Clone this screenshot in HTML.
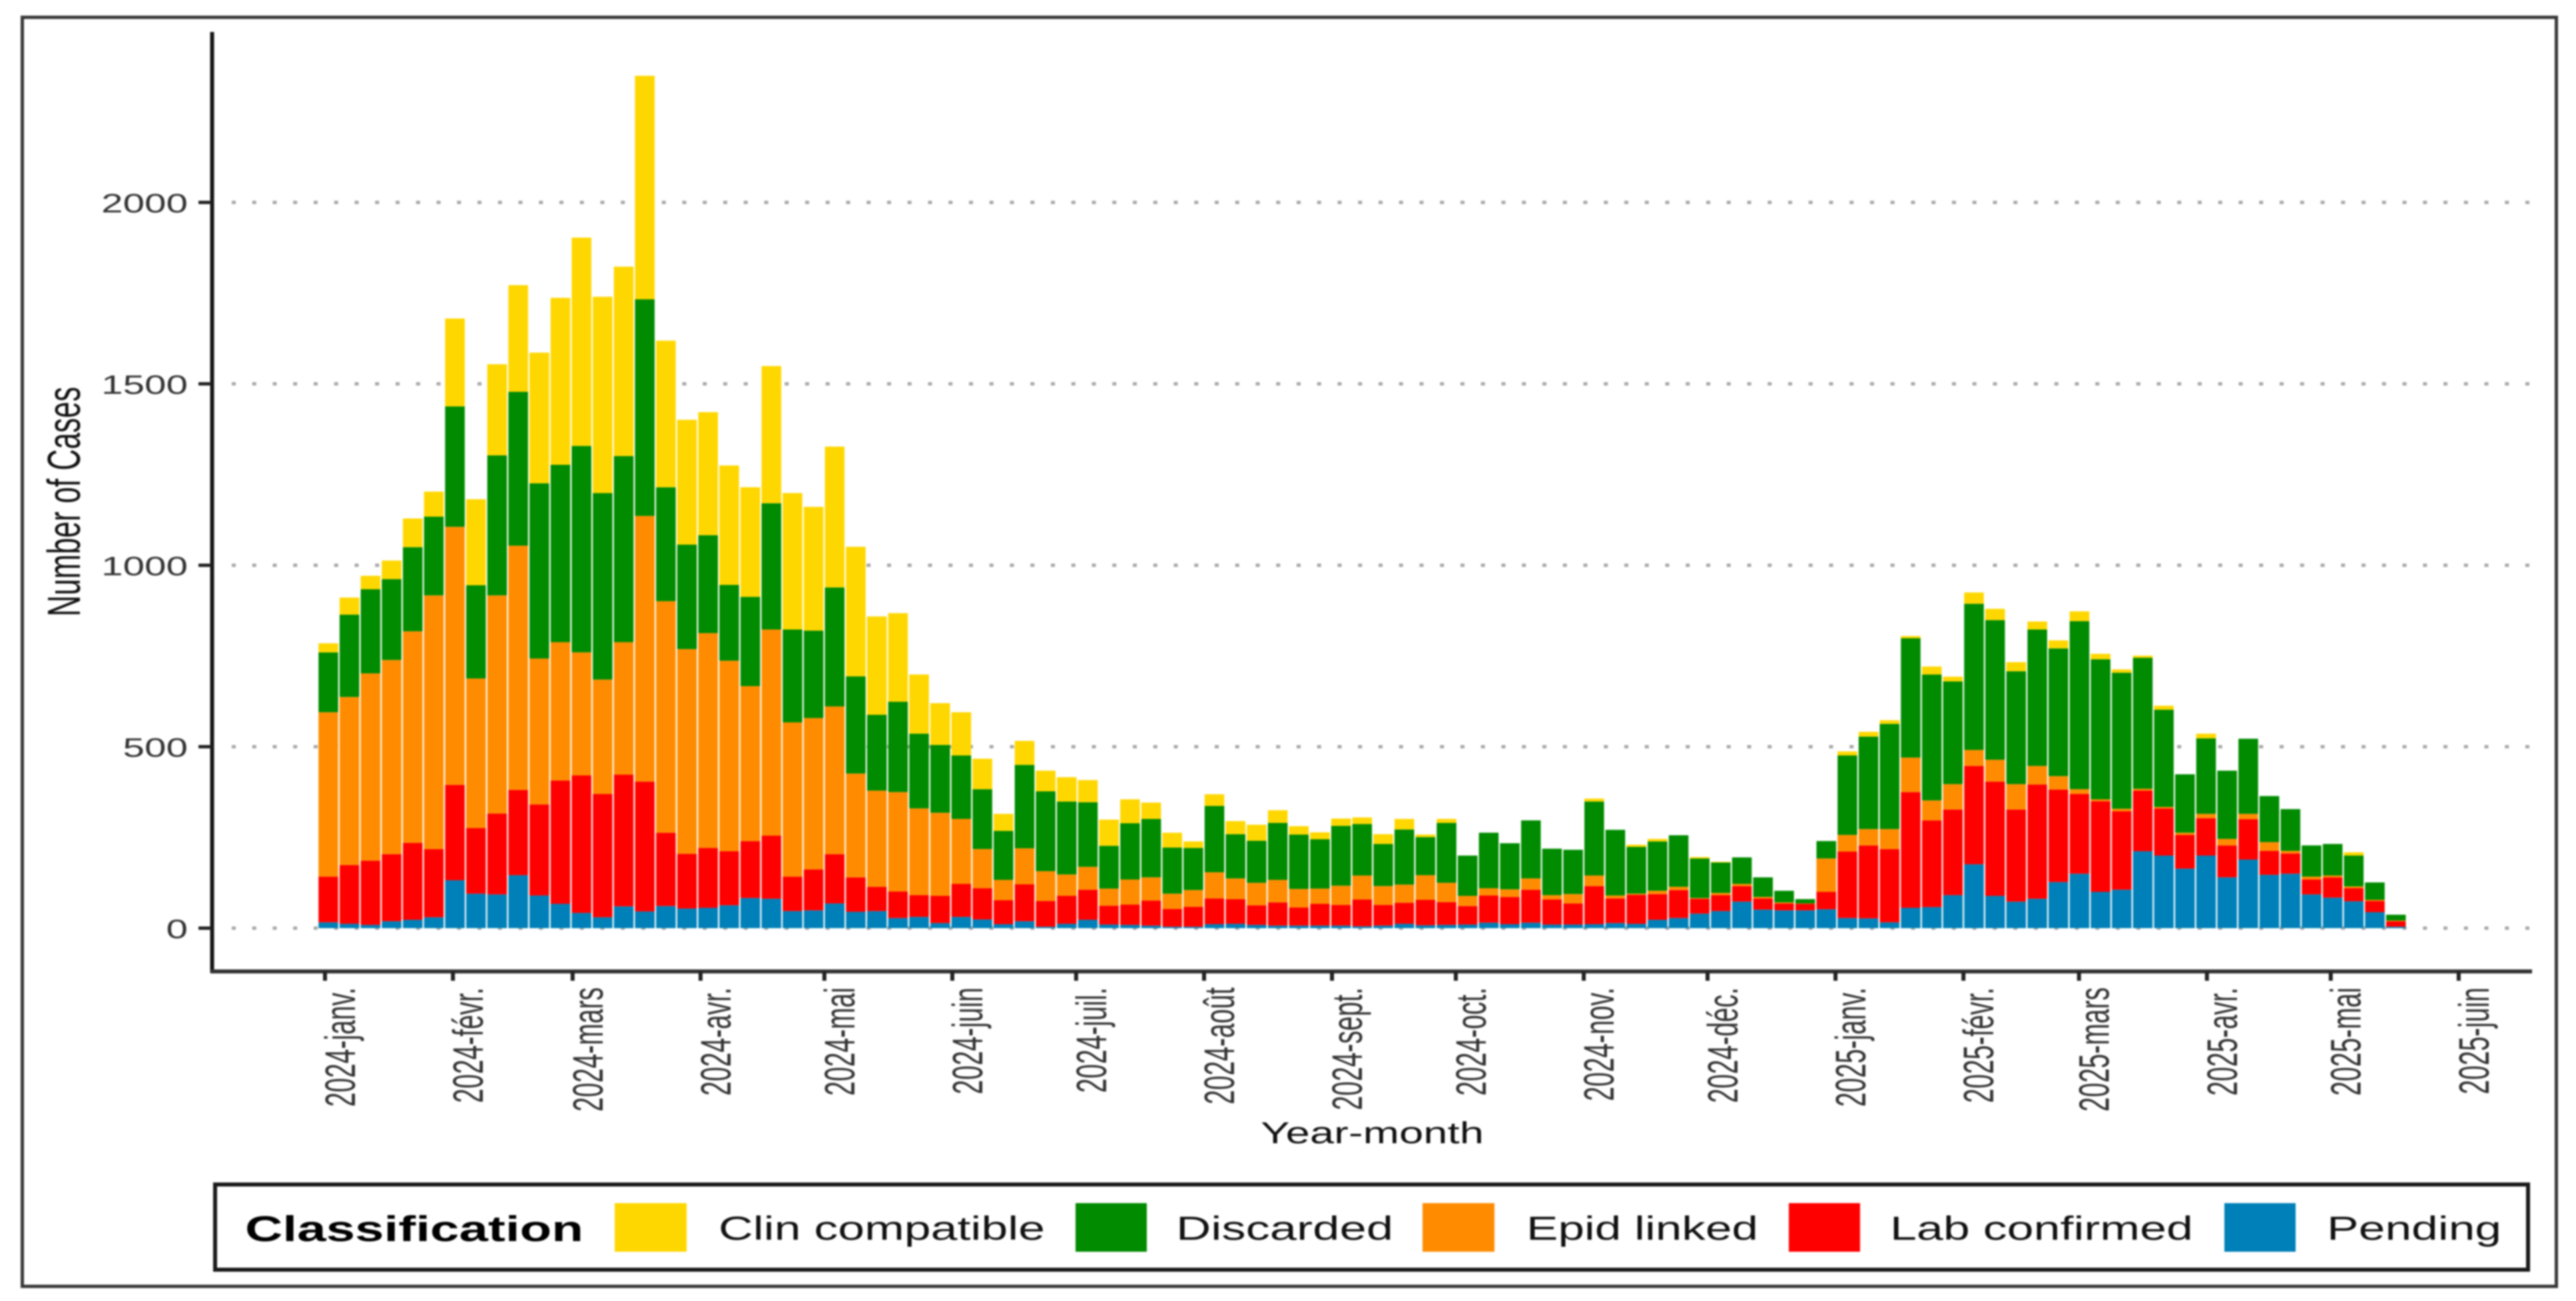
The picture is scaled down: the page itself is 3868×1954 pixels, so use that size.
<!DOCTYPE html>
<html lang="fr">
<head>
<meta charset="utf-8">
<title>Number of Cases by Year-month</title>
<style>
html,body{margin:0;padding:0;background:#fff;}
svg{display:block;filter:blur(1.3px);}
text{font-family:"Liberation Sans",sans-serif;}
</style>
</head>
<body>
<svg id="chart" xmlns="http://www.w3.org/2000/svg" width="3868" height="1954" viewBox="0 0 3868 1954">
  <rect x="0" y="0" width="3868" height="1954" fill="#ffffff"/>
  <rect x="33.5" y="26" width="3805" height="1906" fill="none" stroke="#383838" stroke-width="5"/>
  <g id="grid"></g>
  <g id="bars"></g>
  <line x1="318.5" y1="48" x2="318.5" y2="1461" stroke="#151515" stroke-width="6"/>
  <line x1="316" y1="1459" x2="3802" y2="1459" stroke="#333" stroke-width="6"/>
  <g id="yticks"></g>
  <g id="xticks"></g>
  <text transform="translate(120,926) rotate(-90)" font-size="70" textLength="345" lengthAdjust="spacingAndGlyphs" fill="#111">Number of Cases</text>
  <text x="1893" y="1717" font-size="45" textLength="335" lengthAdjust="spacingAndGlyphs" fill="#111">Year-month</text>
  <g>
    <rect x="323" y="1779" width="3473" height="128" fill="#fff" stroke="#1a1a1a" stroke-width="6"/>
    <text x="368" y="1864" font-size="54" font-weight="bold" textLength="508" lengthAdjust="spacingAndGlyphs" fill="#000">Classification</text>
    <rect x="923" y="1807" width="108" height="73" fill="#FFD700"/>
    <text x="1079" y="1862" font-size="50" textLength="490" lengthAdjust="spacingAndGlyphs" fill="#111">Clin compatible</text>
    <rect x="1615" y="1807" width="107" height="73" fill="#008B00"/>
    <text x="1766" y="1862" font-size="50" textLength="326" lengthAdjust="spacingAndGlyphs" fill="#111">Discarded</text>
    <rect x="2136" y="1807" width="108" height="73" fill="#FF8C00"/>
    <text x="2292" y="1862" font-size="50" textLength="348" lengthAdjust="spacingAndGlyphs" fill="#111">Epid linked</text>
    <rect x="2686" y="1807" width="107" height="73" fill="#FF0000"/>
    <text x="2838" y="1862" font-size="50" textLength="455" lengthAdjust="spacingAndGlyphs" fill="#111">Lab confirmed</text>
    <rect x="3340" y="1807" width="107" height="73" fill="#0080B8"/>
    <text x="3494" y="1862" font-size="50" textLength="262" lengthAdjust="spacingAndGlyphs" fill="#111">Pending</text>
  </g>
</svg>
<script>
const pending = [16,12,9,19,23,30,132,95,93,146,90,67,42,30,60,46,61,54,56,63,83,81,47,49,68,45,47,28,31,14,31,24,11,19,4,12,23,10,9,7,4,4,11,12,9,7,7,7,7,5,7,12,8,9,10,15,11,15,10,10,11,14,12,23,28,40,47,73,51,49,49,52,28,27,16,56,58,91,176,89,73,81,127,150,100,106,212,200,164,200,140,189,147,150,93,84,74,44,4];
const labConfirmed = [126,162,177,185,212,188,263,181,223,235,251,340,379,340,363,358,202,151,165,149,157,174,95,113,136,95,67,73,60,75,91,86,66,102,71,77,83,52,56,69,49,55,71,68,54,64,50,60,57,74,57,58,70,63,51,75,75,91,69,58,105,68,80,71,77,41,44,43,31,19,18,48,183,201,202,319,239,236,271,315,254,315,255,220,250,216,167,130,93,103,88,111,66,56,41,56,36,31,15];
const epidLinked = [453,463,516,535,583,699,711,412,601,673,402,381,339,315,365,732,638,564,592,525,427,568,425,417,407,286,265,274,239,229,179,108,56,99,82,59,63,47,69,64,42,46,72,57,62,62,51,42,53,66,52,50,68,53,28,20,21,31,12,26,29,8,3,9,9,2,6,6,4,3,1,92,46,45,55,95,55,70,44,60,70,51,37,13,5,7,5,4,6,12,18,15,24,7,8,5,5,3,2];
const discarded = [165,227,232,223,232,217,332,257,386,424,483,489,569,514,513,597,314,288,270,209,246,348,256,241,328,268,209,249,206,187,175,165,135,230,220,201,178,118,155,161,127,116,183,122,116,157,150,136,165,142,116,152,105,165,111,153,127,160,128,122,204,181,129,136,142,109,84,73,54,32,12,48,219,255,290,329,347,283,403,385,311,376,352,463,386,375,361,268,161,208,188,207,127,115,86,87,85,48,16];
const clinCompatible = [25,47,37,51,79,69,242,237,251,294,360,460,574,541,522,616,404,344,339,329,302,378,376,341,388,357,271,244,163,115,119,84,47,66,57,67,61,72,66,45,41,18,32,36,44,35,23,19,20,18,27,29,7,11,0,0,0,0,0,0,8,0,6,7,0,4,2,0,0,0,0,0,11,13,10,6,22,13,31,31,25,22,22,27,15,9,6,11,0,13,0,0,0,0,0,0,9,0,0];
const seriesNames = ['pending','lab-confirmed','epid-linked','discarded','clin-compatible'];
const seriesColors = ['#0080B8','#FF0000','#FF8C00','#008B00','#FFD700'];
const yTickValues = [0,500,1000,1500,2000];
const xTickDates = ['2024-01-01','2024-02-01','2024-03-01','2024-04-01','2024-05-01','2024-06-01','2024-07-01','2024-08-01','2024-09-01','2024-10-01','2024-11-01','2024-12-01','2025-01-01','2025-02-01','2025-03-01','2025-04-01','2025-05-01','2025-06-01'];
const xTickLabels = ['2024-janv.','2024-févr.','2024-mars','2024-avr.','2024-mai','2024-juin','2024-juil.','2024-août','2024-sept.','2024-oct.','2024-nov.','2024-déc.','2025-janv.','2025-févr.','2025-mars','2025-avr.','2025-mai','2025-juin'];

const NS = 'http://www.w3.org/2000/svg';
function yScale(v){ return 1394 - 0.545 * v; }
function xBar(i){ return 493 + 31.68 * i; }
function xDate(s){ return 488 + 6.197 * (Date.parse(s) - Date.parse(xTickDates[0])) / 86400000; }
function make(tag, parent){ const e = document.createElementNS(NS, tag); parent.appendChild(e); return e; }

const gridG = document.getElementById('grid');
yTickValues.forEach(function(v){
  const g = make('line', gridG);
  
  
  g.setAttribute('x1', 348);
  g.setAttribute('x2', 3802);
  g.setAttribute('y1', yScale(v));
  g.setAttribute('y2', yScale(v));
  g.setAttribute('stroke', '#a8a8a8');
  g.setAttribute('stroke-width', 5);
  g.setAttribute('stroke-dasharray', '6 24.75');
});

const barsG = document.getElementById('bars');
const stacks = [pending, labConfirmed, epidLinked, discarded, clinCompatible];
const barW = 29.5;
pending.forEach(function(_, i){
  let cum = 0;
  stacks.forEach(function(arr, s){
    const v = arr[i];
    if (v <= 0) return;
    const r = make('rect', barsG);
    
    
    r.setAttribute('x', xBar(i) - barW / 2);
    r.setAttribute('width', barW);
    r.setAttribute('y', yScale(cum + v));
    r.setAttribute('height', yScale(cum) - yScale(cum + v));
    r.setAttribute('fill', seriesColors[s]);
    cum += v;
  });
});

const yG = document.getElementById('yticks');
yTickValues.forEach(function(v){
  const t = make('line', yG);
  
  
  t.setAttribute('x1', 298);
  t.setAttribute('x2', 318);
  t.setAttribute('y1', yScale(v));
  t.setAttribute('y2', yScale(v));
  t.setAttribute('stroke', '#222');
  t.setAttribute('stroke-width', 5);
  const l = make('text', yG);
  
  
  l.setAttribute('text-anchor', 'end');
  l.setAttribute('font-size', 40);
  l.setAttribute('fill', '#333');
  l.setAttribute('transform', 'translate(282,' + (yScale(v) + 15) + ') scale(1.46,1)');
  l.textContent = String(v);
});

const xG = document.getElementById('xticks');
xTickDates.forEach(function(d, i){
  const x = xDate(d);
  const t = make('line', xG);
  
  
  t.setAttribute('x1', x);
  t.setAttribute('x2', x);
  t.setAttribute('y1', 1459);
  t.setAttribute('y2', 1473);
  t.setAttribute('stroke', '#222');
  t.setAttribute('stroke-width', 6);
  const l = make('text', xG);
  
  
  l.setAttribute('text-anchor', 'end');
  l.setAttribute('font-size', 64);
  l.setAttribute('fill', '#333');
  l.setAttribute('transform', 'translate(' + (x + 45) + ',1483) rotate(-90) scale(0.61,1)');
  l.textContent = xTickLabels[i];
});
</script>
</body>
</html>
